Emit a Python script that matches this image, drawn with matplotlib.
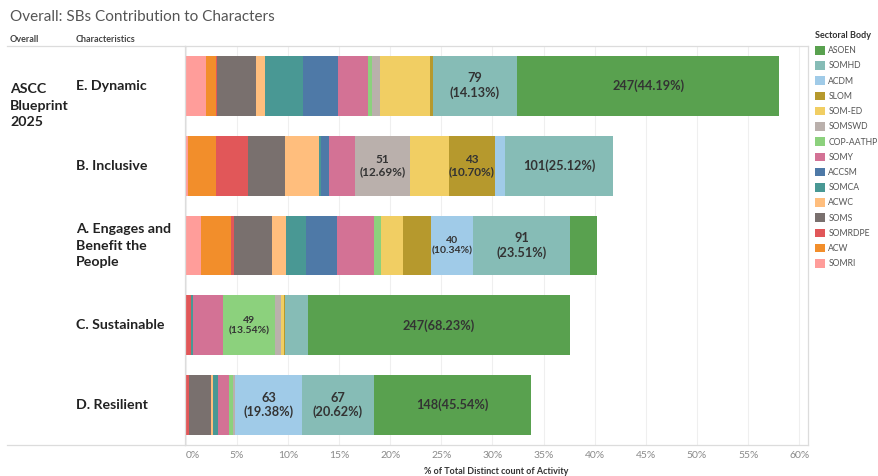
import matplotlib
matplotlib.use('Agg')
import matplotlib.pyplot as plt
import matplotlib.transforms as mtransforms
from matplotlib.patches import Patch
from matplotlib.lines import Line2D
import numpy as np

plt.rcParams['font.family'] = ['Lato', 'DejaVu Sans']

# ---------------- data ----------------
title = "Overall: SBs Contribution to Characters"
characteristics = ['E. Dynamic', 'B. Inclusive', 'A. Engages and\nBenefit the\nPeople',
                   'C. Sustainable', 'D. Resilient']
group_label = 'ASCC\nBlueprint\n2025'

# stack order (left to right)
bodies = ['SOMRI', 'ACW', 'SOMRDPE', 'SOMS', 'ACWC', 'SOMCA', 'ACCSM', 'SOMY',
          'COP-AATHP', 'SOMSWD', 'SOM-ED', 'SLOM', 'ACDM', 'SOMHD', 'ASOEN']

# distinct count of activity per sectoral body, per characteristic row
counts = {
    'SOMRI':     [19,   2, 15,   0,   0],
    'ACW':       [10,  27, 28,   0,   0],
    'SOMRDPE':   [1,   30,  3,   5,   3],
    'SOMS':      [36,  35, 35,   0,  21],
    'ACWC':      [9,   32, 14,   0,   2],
    'SOMCA':     [36,   2, 18,   2,   5],
    'ACCSM':     [33,   7, 30,   0,   0],
    'SOMY':      [28,  25, 34,  28,  10],
    'COP-AATHP': [4,    0,  7,  49,   4],
    'SOMSWD':    [7,   51,  0,   6,   2],
    'SOM-ED':    [47,  37, 21,   3,   0],
    'SLOM':      [3,   43, 26,   1,   0],
    'ACDM':      [0,   10, 40,   0,  63],
    'SOMHD':     [79, 101, 91,  21,  67],
    'ASOEN':     [247,  0, 25, 247, 148],
}
grand_total = 963  # total distinct count of activity

# labelled segments: (row index, body)
label_segments = [(0, 'SOMHD'), (0, 'ASOEN'),
                  (1, 'SOMSWD'), (1, 'SLOM'), (1, 'SOMHD'),
                  (2, 'ACDM'), (2, 'SOMHD'),
                  (3, 'COP-AATHP'), (3, 'ASOEN'),
                  (4, 'ACDM'), (4, 'SOMHD'), (4, 'ASOEN')]

xticks = list(range(0, 61, 5))
x_label = '% of Total Distinct count of Activity'
legend_title = 'Sectoral Body'

# ---------------- styles ----------------
colors = {
    'ASOEN': '#59A14F', 'SOMHD': '#86BCB6', 'ACDM': '#A0CBE8', 'SLOM': '#B6992D',
    'SOM-ED': '#F1CE63', 'SOMSWD': '#BAB0AC', 'COP-AATHP': '#8CD17D', 'SOMY': '#D37295',
    'ACCSM': '#4E79A7', 'SOMCA': '#499894', 'ACWC': '#FFBE7D', 'SOMS': '#79706E',
    'SOMRDPE': '#E15759', 'ACW': '#F28E2B', 'SOMRI': '#FF9D9A',
}
single_line = {(0, 'ASOEN'), (1, 'SOMHD'), (3, 'ASOEN'), (4, 'ASOEN')}
label_size = {(1, 'SOMSWD'): 8.5, (1, 'SLOM'): 8.5, (2, 'ACDM'): 7.5, (3, 'COP-AATHP'): 7.5}

W, H = 879, 476
def fx(p): return p / W
def fy(p): return 1 - p / H

fig = plt.figure(figsize=(W / 100, H / 100), dpi=100)
L, R, T, B = 184.7, 808, 46, 445
ax = fig.add_axes([fx(L), fy(B), (R - L) / W, (B - T) / H])

n = len(characteristics)
ypos = np.arange(n)
row_totals = np.sum([counts[b] for b in bodies], axis=0)
left = np.zeros(n)
seg_left = {}
for b in bodies:
    w = np.array(counts[b]) / grand_total * 100
    ax.barh(ypos, w, left=left, height=0.75, color=colors[b], linewidth=0)
    for i in range(n):
        seg_left[(i, b)] = (left[i], w[i])
    left = left + w

for (i, b) in label_segments:
    l0, w = seg_left[(i, b)]
    c = counts[b][i]
    pct = c / row_totals[i] * 100
    txt = f"{c}({pct:.2f}%)" if (i, b) in single_line else f"{c}\n({pct:.2f}%)"
    ax.text(l0 + w / 2, i, txt, ha='center', va='center',
            fontsize=label_size.get((i, b), 9.2), fontweight='bold',
            color='#333333', linespacing=1.2)

ax.set_xlim(-0.08, (R - 185.5) / 10.23)
ax.set_ylim(n - 0.5, -0.5)
ax.set_yticks([])
ax.set_xticks(xticks)
ax.set_xticklabels([f'{v}%' for v in xticks], fontsize=7.5, color='#8a8a8a')
ax.get_xticklabels()[0].set_horizontalalignment('left')
ax.tick_params(axis='x', length=0, pad=4.5)
ax.grid(axis='x', color='#efefef', linewidth=0.8)
ax.set_axisbelow(True)
for s in ['left', 'right', 'top', 'bottom']:
    ax.spines[s].set_color('#dcdcdc')
    ax.spines[s].set_linewidth(0.9)

# header / footer lines across the row-header panes
for yy in (T, B):
    fig.add_artist(Line2D([fx(7), fx(L)], [fy(yy), fy(yy)], color='#dcdcdc', lw=0.9))

# texts
fig.text(fx(10), fy(17), title, fontsize=11, color='#555555', va='center', ha='left')
fig.text(fx(10), fy(40), 'Overall', fontsize=6.5, fontweight='bold', color='#444444', va='center')
fig.text(fx(76), fy(40), 'Characteristics', fontsize=6.5, fontweight='bold', color='#444444', va='center')
fig.text(fx(10), fy(105.5), group_label, fontsize=10.2, fontweight='bold', color='#222222',
         va='center', ha='left', linespacing=1.42)
trans = mtransforms.blended_transform_factory(fig.transFigure, ax.transData)
for i, c in enumerate(characteristics):
    ax.text(fx(76), i, c, transform=trans, fontsize=10.2, fontweight='bold', color='#222222',
            va='center', ha='left', linespacing=1.42)
fig.text(fx((L + R) / 2), fy(471), x_label, fontsize=6.5, fontweight='bold', color='#333333',
         ha='center', va='center')

# legend
handles = [Patch(facecolor=colors[b], edgecolor='none') for b in bodies[::-1]]
leg = fig.legend(handles, bodies[::-1], loc='upper left', bbox_to_anchor=(fx(815), fy(31)),
                 frameon=False, title=legend_title,
                 title_fontproperties={'weight': 'bold', 'size': 6.5},
                 fontsize=6.2, labelcolor='#555555', handlelength=1.15, handleheight=1.15,
                 handletextpad=0.4, labelspacing=0.7, borderpad=0, borderaxespad=0,
                 alignment='left')
leg.get_title().set_color('#333333')

fig.savefig('out.png', dpi=100)
